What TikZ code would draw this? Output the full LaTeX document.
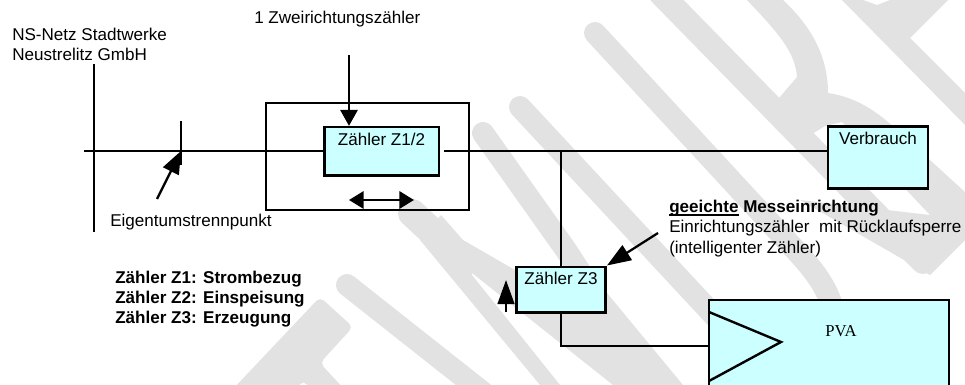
\documentclass[tikz,border=0pt]{standalone}
\usepackage{fontspec}
\setmainfont{Liberation Sans}
\newfontfamily\pvafont{Liberation Serif}
\usetikzlibrary{arrows.meta, positioning, calc}
\definecolor{zfill}{HTML}{CCFFFF}
\definecolor{wzgray}{HTML}{E2E2E2}
\newcommand{\unterstrichen}[1]{\vtop{\hbox{\smash{#1}}\kern1pt\hrule height 1pt}}

\begin{document}
\begin{tikzpicture}[
  x=0.75pt, y=-0.75pt,
  lbl/.style={anchor=base west, inner sep=0pt, font=\fontsize{12.8}{15}\selectfont},
  zbox/.style={rectangle, draw=black, fill=zfill, line width=2pt, inner sep=0pt, align=center, font=\fontsize{12.8}{15}\selectfont},
  netz/.style={line width=1.5pt},
  dick/.style={line width=1.8pt},
  pfeil/.style={line width=1.7pt, -{Triangle[length=12pt,width=13pt]}},
  wz/.style={wzgray, line width=16.5pt, line cap=round, line join=round}
]
\useasboundingbox (0,0) rectangle (965,385);

% Wasserzeichen
\begin{scope}
\clip (0,0) rectangle (965,385);
\draw[wz, line width=18pt] (660,-7) -- (923,262);
\draw[wz] (595,33) -- (800,255) .. controls (815,272) and (828,288) .. (835,315);
\draw[wz] (520,107) -- (720,322);
\draw[wz] (483,133) -- (566,250) -- (660,395);
\draw[wz, line width=21pt] (412,213) -- (441,240);
\fill[wzgray] (420,240) -- (540,385) -- (560,385) -- (472,275) -- (472,273) -- (613,385) -- (683,385) -- (607,293) -- (515,270) -- (463,240) -- (441,215) -- cycle;
\draw[wz] (347,285) -- (490,398);
\fill[wzgray] (747,0) .. controls (775,30) and (795,50) .. (797,77) -- (773,105) -- (807,137)
  -- (825,126) -- (842,122) -- (930,215) -- (800,200) -- (930,275) -- (965,240) -- (965,192) -- (895,128)
  .. controls (875,110) and (855,97) .. (828,93) .. controls (828,55) and (810,25) .. (783,0) -- cycle;
\fill[wzgray] (842,0) -- (965,125) -- (965,93) -- (910,38) -- (948,0) -- (890,0) -- (877,5) -- (863,0) -- cycle;
\fill[wzgray, rounded corners=4pt] (320,297) -- (353,327) -- (320,363) -- (345,390) -- (310,390) -- (304,380) -- (295,390) -- (232,390) -- cycle;
\end{scope}

% Zaehler und Anlagen
\node[rectangle, draw=black, line width=1.5pt, minimum width=152pt, minimum height=80pt, inner sep=0pt] (messfeld) at (367.5,156.5) {};
\node[zbox, minimum width=86pt, text height=13.5pt, text depth=23pt] (z12) at (381.5,151.5) {Zähler Z1/2};
\node[zbox, minimum width=75pt, text height=13.5pt, text depth=32.5pt] (verbrauch) at (878,157.5) {Verbrauch};
\node[zbox, minimum width=67pt, text height=13.5pt, text depth=20.5pt] (z3) at (561,289.5) {Zähler Z3};
\node[rectangle, draw=black, fill=zfill, line width=1.5pt, minimum width=180pt, minimum height=75pt, inner sep=0pt] (pva) at (829,350) {};
\node[font=\pvafont\fontsize{12.5}{15}\selectfont, inner sep=0pt] (pvatext) at (841,331) {PVA};

% Punkte
\coordinate (busoben) at (94,64);
\coordinate (busunten) at (94,232);
\coordinate (netzanfang) at (84,151);
\coordinate (tickoben) at (181,121);
\coordinate (tickunten) at (181,165);
\coordinate (tickfuss) at (157,199);
\coordinate (z12aus) at (444,151);
\coordinate (abzweig) at (561,151);
\coordinate (pvaecke) at (561,346);
\coordinate (pvaein) at (709,346);
\coordinate (z12pfeil) at (349,55);
\coordinate (doppelL) at (349,200);
\coordinate (doppelR) at (414,200);
\coordinate (z3pfeil) at (658,233);
\coordinate (hochfuss) at (506,312);
\coordinate (hochspitze) at (506,280);
\coordinate (triA) at (709,312);
\coordinate (triB) at (781,342);
\coordinate (triC) at (709,381);

% Leitungen
\draw[dick] (busoben) -- (busunten);
\draw[netz] (netzanfang) -- (netzanfang -| z12.west);
\draw[netz] (z12aus) -- (z12aus -| verbrauch.west);
\draw[dick] (tickoben) -- (tickunten);
\draw[dick] (abzweig) -- (z3.north);
\draw[dick] (z3.south) -- (pvaecke) -- (pvaein);
\draw[dick] (triA) -- (triB) -- (triC);

% Pfeile
\draw[pfeil, -{Triangle[length=17pt,width=13pt]}] (tickfuss) -- (tickoben |- netzanfang);
\draw[pfeil] (z12pfeil) -- (z12pfeil |- z12.north);
\draw[line width=1.8pt, {Triangle[length=11pt,width=13pt]}-{Triangle[length=11pt,width=13pt]}] (doppelL) -- (doppelR);
\draw[pfeil, -{Triangle[length=18pt,width=13pt]}] (z3pfeil) -- (z3.north east);
\draw[pfeil, -{Triangle[length=18pt,width=12.5pt]}] (hochfuss) -- (hochspitze);

% Texte
\node[lbl] (einspeiser) at (12,41) {NS-Netz Stadtwerke};
\node[lbl] (einspeiser2) at (12,61) {Neustrelitz GmbH};
\node[lbl] (zweirichtung) at (254,24) {1 Zweirichtungszähler};
\node[lbl] (eigentum) at (110,226) {Eigentumstrennpunkt};
\node[lbl] (legende1) at (115,283) {\bfseries Zähler Z1: Strombezug};
\node[lbl] (legende2) at (115,303) {\bfseries Zähler Z2: Einspeisung};
\node[lbl] (legende3) at (115,323) {\bfseries Zähler Z3: Erzeugung};
\node[lbl] (geeicht) at (669,213) {\bfseries\unterstrichen{geeichte} Messeinrichtung};
\node[lbl] (einrichtung) at (669,233) {Einrichtungszähler\ \ mit Rücklaufsperre};
\node[lbl] (intelligent) at (669,253) {(intelligenter Zähler)};

\end{tikzpicture}
\end{document}
